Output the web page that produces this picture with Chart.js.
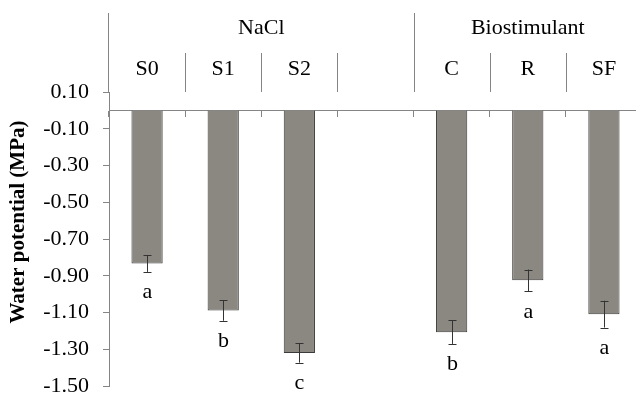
<!DOCTYPE html>
<html>
<head>
<meta charset="utf-8">
<script src="https://cdn.jsdelivr.net/npm/chart.js@4/dist/chart.umd.min.js"></script>
<style>
  html, body { margin: 0; padding: 0; background: #fff; overflow: hidden; }
  #wrap { width: 642px; height: 394px; }
</style>
</head>
<body>
<div id="wrap"><canvas id="chart"></canvas></div>
<script>
// Data
const categories = ['S0', 'S1', 'S2', '', 'C', 'R', 'SF'];
const waterPotential = [-0.833, -1.089, -1.32, null, -1.207, -0.925, -1.109];
const errors = [0.046, 0.056, 0.053, null, 0.064, 0.059, 0.073];
const letters = ['a', 'b', 'c', '', 'b', 'a', 'a'];
const yTicks = [0.10, -0.10, -0.30, -0.50, -0.70, -0.90, -1.10, -1.30, -1.50];
const groupNames = ['NaCl', 'Biostimulant'];
const groupStart = [0, 4];
const groupEnd = [3, 6];

const SERIF = "'Liberation Serif', 'Times New Roman', serif";
const AXIS_GRAY = '#858585';

// error bars + significance letters
const errorBars = {
  id: 'errorBars',
  afterDatasetsDraw(chart) {
    const { ctx, scales: { y } } = chart;
    const meta = chart.getDatasetMeta(0);
    ctx.save();
    ctx.strokeStyle = '#333';
    ctx.lineWidth = 1;
    ctx.fillStyle = '#000';
    ctx.font = '22px ' + SERIF;
    ctx.textAlign = 'center';
    ctx.textBaseline = 'alphabetic';
    waterPotential.forEach((v, i) => {
      if (v === null) return;
      const cx = Math.round(meta.data[i].x) + 0.5;
      const top = y.getPixelForValue(v + errors[i]);
      const bot = y.getPixelForValue(v - errors[i]);
      ctx.beginPath();
      ctx.moveTo(cx, top); ctx.lineTo(cx, bot);
      ctx.moveTo(cx - 4, Math.round(top) + 0.5); ctx.lineTo(cx + 4, Math.round(top) + 0.5);
      ctx.moveTo(cx - 4, Math.round(bot) + 0.5); ctx.lineTo(cx + 4, Math.round(bot) + 0.5);
      ctx.stroke();
      ctx.fillText(letters[i], cx, bot + 26.5);
    });
    ctx.restore();
  }
};

// header with group names, sub-labels and separators above the plot
const header = {
  id: 'header',
  afterDraw(chart) {
    const { ctx, chartArea, scales: { x } } = chart;
    const edge = i => (x.getPixelForValue(i - 1) + x.getPixelForValue(i)) / 2;
    ctx.save();
    ctx.strokeStyle = AXIS_GRAY;
    ctx.lineWidth = 1;
    ctx.beginPath();
    // y axis runs up through the header
    const ax = Math.round(chartArea.left) - 0.5;
    ctx.moveTo(ax, 13); ctx.lineTo(ax, chartArea.top);
    for (let i = 1; i < categories.length; i++) {
      const sx = Math.round(edge(i)) + 0.5;
      const isGroupEdge = groupStart.includes(i);
      ctx.moveTo(sx, isGroupEdge ? 13 : 53);
      ctx.lineTo(sx, chartArea.top);
    }
    ctx.stroke();

    ctx.fillStyle = '#000';
    ctx.font = '22px ' + SERIF;
    ctx.textAlign = 'center';
    ctx.textBaseline = 'alphabetic';
    categories.forEach((c, i) => {
      if (c) ctx.fillText(c, x.getPixelForValue(i), 75);
    });
    groupNames.forEach((g, k) => {
      const cx = (edge(groupStart[k]) + edge(groupEnd[k] + 1)) / 2;
      ctx.fillText(g, cx, 34);
    });

    // y axis title
    ctx.font = 'bold 21px ' + SERIF;
    ctx.translate(19, 222);
    ctx.rotate(-Math.PI / 2);
    ctx.textBaseline = 'middle';
    ctx.fillText('Water potential (MPa)', 0, 0);
    ctx.restore();
  }
};

new Chart(document.getElementById('chart'), {
  type: 'bar',
  data: {
    labels: categories,
    datasets: [{
      data: waterPotential,
      backgroundColor: '#8b8781',
      borderColor: '#3a3a3a',
      borderWidth: 1,
      barPercentage: 0.41,
      categoryPercentage: 1
    }]
  },
  options: {
    responsive: true,
    maintainAspectRatio: false,
    animation: false,
    layout: { padding: { top: 92, bottom: 8, left: 0, right: 0 } },
    plugins: { legend: { display: false }, tooltip: { enabled: false } },
    scales: {
      x: {
        position: { y: 0 },
        offset: true,
        grid: { offset: true, drawOnChartArea: false, drawTicks: true, tickLength: 6, color: AXIS_GRAY },
        border: { display: true, color: AXIS_GRAY, width: 1 },
        ticks: { display: false }
      },
      y: {
        min: -1.5,
        max: 0.1,
        afterBuildTicks: scale => { scale.ticks = yTicks.map(v => ({ value: v })); },
        afterFit: scale => {
          scale.width = 109;
          scale.paddingTop = 0;
          scale.paddingBottom = 0;
        },
        grid: { drawOnChartArea: false, tickLength: 6, color: AXIS_GRAY },
        border: { display: true, color: AXIS_GRAY, width: 1 },
        ticks: {
          padding: 14,
          color: '#000',
          font: { family: SERIF, size: 22 },
          callback: v => v.toFixed(2)
        }
      }
    }
  },
  plugins: [errorBars, header]
});
</script>
</body>
</html>
